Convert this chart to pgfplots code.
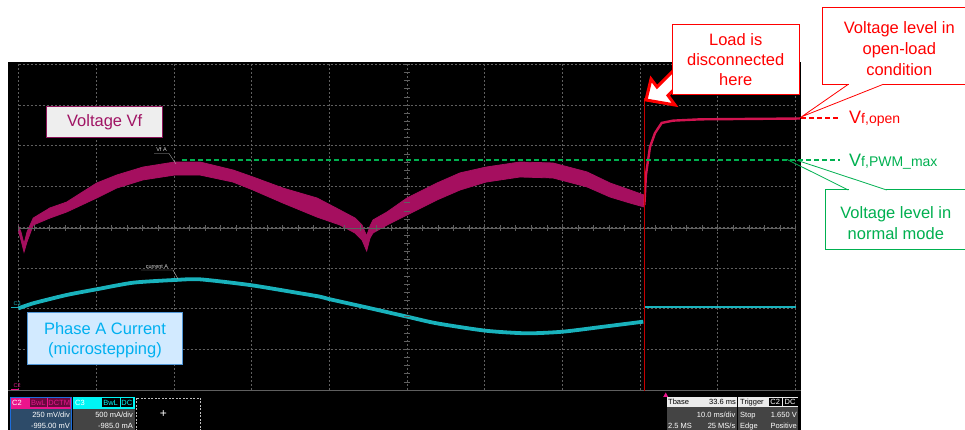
\documentclass[border=0pt]{standalone}
\usepackage{pgfplots}
\pgfplotsset{compat=1.18}
\usepackage{fontspec}
\setmainfont{Liberation Sans}

\definecolor{vfc}{RGB}{165,15,95}
\definecolor{vfjump}{RGB}{210,20,80}
\definecolor{curc}{RGB}{25,178,188}
\definecolor{gridc}{RGB}{95,95,95}
\definecolor{annred}{RGB}{255,0,0}
\definecolor{anngreen}{RGB}{0,176,80}
\definecolor{cursor}{RGB}{200,0,0}
\definecolor{vfbox}{RGB}{140,20,90}
\definecolor{vffill}{RGB}{238,238,238}
\definecolor{vftext}{RGB}{160,20,100}
\definecolor{curboxfill}{RGB}{210,234,255}
\definecolor{curboxdraw}{RGB}{80,150,215}
\definecolor{curtext}{RGB}{0,176,240}
\definecolor{c2head}{RGB}{235,20,140}
\definecolor{c2body}{RGB}{45,75,105}
\definecolor{c2edge}{RGB}{30,110,220}
\definecolor{c3head}{RGB}{0,245,245}
\definecolor{infobody}{RGB}{68,68,68}
\definecolor{infohead}{RGB}{235,235,235}

\tikzset{
  ann/.style={font=\fontsize{16.5}{19}\selectfont},
  scp/.style={font=\fontsize{7.5}{8}\selectfont},
  lbl/.style={font=\fontsize{5.5}{6}\selectfont},
}

\begin{document}
\begin{tikzpicture}
\useasboundingbox (0,0) rectangle (965pt,430pt);
\clip (0,0) rectangle (965pt,430pt);
\begin{scope}[x=1pt,y=-1pt,shift={(0pt,430pt)}]
  \fill[black] (8,62) rectangle (801,430);
\end{scope}

% C2: Vf, 250 mV/div, 10 ms/div
\begin{axis}[
  at={(18.5pt,40pt)}, anchor=south west,
  scale only axis, width=777pt, height=325.7pt,
  xmin=0, xmax=100, ymin=-0.005, ymax=1.995,
  clip=false,
  axis line style={draw=none},
  xtick={0,10,...,100},
  ytick={-0.005,0.245,0.495,0.745,0.995,1.245,1.495,1.745,1.995},
  xticklabels={}, yticklabels={},
  major tick length=0pt,
  grid=major,
  major grid style={draw=gridc, line width=0.7pt, dash pattern=on 2pt off 2pt},
]
% band of the noisy trace: upper edge, then lower edge back
\addplot[fill=vfc, draw=vfc, line width=0.8pt] coordinates {
  (0.00,1.002) (0.32,0.965) (0.71,0.892) (1.09,0.965) (1.90,1.051)
  (4.05,1.113) (6.20,1.149) (10.06,1.266) (12.64,1.315) (16.02,1.364)
  (20.10,1.395) (23.36,1.395) (27.61,1.346) (30.18,1.303) (34.04,1.235)
  (38.42,1.174) (41.38,1.100) (43.31,1.051) (44.21,1.008) (44.81,0.941)
  (45.24,1.002) (45.62,1.039) (47.43,1.088) (50.00,1.174) (53.86,1.266)
  (56.82,1.328) (60.17,1.364) (64.54,1.395) (68.79,1.389) (73.17,1.334)
  (76.13,1.266) (78.70,1.223) (80.50,1.192)
  (80.50,1.119) (78.70,1.143) (76.13,1.180) (73.17,1.242) (68.79,1.297)
  (64.54,1.303) (60.17,1.272) (56.82,1.223) (53.86,1.162) (50.00,1.070)
  (47.43,1.008) (45.62,0.959) (45.24,0.928) (44.81,0.849) (44.21,0.916)
  (43.31,0.959) (41.38,1.008) (38.42,1.057) (34.04,1.143) (30.18,1.223)
  (27.61,1.272) (23.36,1.315) (20.10,1.315) (16.02,1.285) (12.64,1.235)
  (10.06,1.174) (6.20,1.088) (4.05,1.051) (1.90,1.008) (1.09,0.904)
  (0.71,0.842) (0.32,0.916) (0.00,0.971)
} -- cycle;
% after the load is disconnected
\addplot[draw=vfjump, line width=2.4pt] coordinates {
  (80.55,1.13) (80.75,1.315) (81.27,1.487) (81.92,1.573) (82.78,1.635)
  (84.23,1.649) (87.71,1.657) (95.00,1.660) (100.6,1.662)
};
\end{axis}

% C3: phase A current, 500 mA/div
\begin{axis}[
  at={(18.5pt,40pt)}, anchor=south west,
  scale only axis, width=777pt, height=325.7pt,
  xmin=0, xmax=100, ymin=-1.015, ymax=2.985,
  clip=false, hide axis,
]
\addplot[curc, line width=3.8pt, smooth, tension=0.4] coordinates {
  (0.00,-0.012) (1.90,0.050) (6.20,0.152) (10.06,0.222) (14.77,0.303)
  (20.10,0.336) (23.36,0.344) (29.79,0.274) (36.23,0.173) (38.80,0.131)
  (40.09,0.099) (44.38,0.008) (50.04,-0.115) (53.82,-0.196) (60.13,-0.287)
  (65.41,-0.319) (70.04,-0.299) (75.26,-0.238) (80.41,-0.176)
};
\addplot[curc, line width=2.2pt] coordinates {(80.63,0.008) (100,0.008)};
\end{axis}

\begin{scope}[x=1pt,y=-1pt,shift={(0pt,430pt)}]
  % centre axes of the graticule
  \draw[gridc, line width=0.8pt] (18.5,228.3) -- (795.5,228.3);
  \foreach \k in {0,...,50} \draw[gridc, line width=0.7pt] ({18.5+15.54*\k},225.3) -- ++(0,6);
  \foreach \k in {0,...,40} \draw[gridc, line width=0.7pt] (404,{64.3+8.1425*\k}) -- ++(6,0);
  \draw[gridc, line width=0.9pt] (8,390.5) -- (801,390.5);

  % trace labels and channel markers
  \node[lbl, text=white!85!black, anchor=base] at (161.5,152) {Vf A};
  \draw[white!70!black, line width=0.4pt] (154,153.5) -- (169,153.5) -- (176,164);
  \node[lbl, text=white!85!black, anchor=base] at (157,268.5) {current A};
  \draw[white!70!black, line width=0.4pt] (141,270) -- (173,270) -- (178,279);
  \node[lbl, text=curc, anchor=base west] at (10,305.5) {C3};
  \draw[curc, line width=0.8pt] (11,307.7) -- (19,307.7);
  \node[lbl, text=c2head, anchor=base west] at (10,387.5) {C2};
  \draw[c2head, line width=0.8pt] (11,389.3) -- (19,389.3);

  % level lines
  \draw[anngreen, line width=1.6pt, dash pattern=on 5pt off 3pt] (182,160.3) -- (840,160.3);
  \draw[annred, line width=1.6pt, dash pattern=on 5pt off 3pt] (801,118.3) -- (840,118.3);

  % load disconnected marker
  \draw[cursor, line width=1.8pt] (644.5,98) -- (644.5,391);
  \draw[annred, line width=3pt, fill=white, line join=miter]
    (646,100) -- (651,79) -- (657,87) -- (697,47) -- (707,57) -- (668,95.5) -- (675,105) -- cycle;
  \draw[annred, fill=white, line width=1pt] (672.7,24.3) rectangle (799.3,95);
  \node[ann, text=annred, anchor=base] at (735.7,46) {Load is};
  \node[ann, text=annred, anchor=base] at (735.7,66) {disconnected};
  \node[ann, text=annred, anchor=base] at (735.7,85.7) {here};

  % open-load callout
  \draw[annred, fill=white, line width=1pt] (822.7,7.3) rectangle (970,84.3);
  \fill[white] (849,83) rectangle (883,85.5);
  \draw[annred, line width=0.8pt] (848.3,84.3) -- (801.7,116.7) -- (883.3,84.3);
  \node[ann, text=annred, anchor=base] at (899.3,33.3) {Voltage level in};
  \node[ann, text=annred, anchor=base] at (899.3,55) {open-load};
  \node[ann, text=annred, anchor=base] at (899.3,76) {condition};
  \node[text=annred, anchor=base west, inner sep=0pt] at (849,124)
    {\fontsize{18}{18}\selectfont V\fontsize{14}{14}\selectfont f,open};

  % normal mode callout
  \draw[anngreen, fill=white, line width=1pt] (825,190) rectangle (970,250);
  \fill[white] (849,189) rectangle (886,191.5);
  \draw[anngreen, line width=0.8pt] (848.3,190) -- (787,159.5);
  \draw[anngreen, line width=0.8pt] (886.7,190) -- (797,160.3);
  \node[ann, text=anngreen, anchor=base] at (895.8,218.3) {Voltage level in};
  \node[ann, text=anngreen, anchor=base] at (895.8,240) {normal mode};
  \node[text=anngreen, anchor=base west, inner sep=0pt] at (849,166.7)
    {\fontsize{18}{18}\selectfont V\fontsize{14}{14}\selectfont f,PWM\_max};

  % channel labels
  \draw[vfbox, fill=vffill, line width=0.9pt] (46.7,106.7) rectangle (162.7,137.3);
  \node[ann, text=vftext, anchor=base] at (104.7,127) {Voltage Vf};
  \draw[curboxdraw, fill=curboxfill, line width=0.9pt] (27.7,312.7) rectangle (182.7,364);
  \node[ann, text=curtext, anchor=base] at (105,335) {Phase A Current};
  \node[ann, text=curtext, anchor=base] at (105,355) {(microstepping)};

  % scope info bar
  \fill[c2body] (10,408.7) rectangle (71.7,432);
  \fill[c2head] (10,397) rectangle (71.7,408.7);
  \draw[c2edge, line width=0.8pt] (10,397) rectangle (71.7,432);
  \node[scp, text=white, anchor=base west, inner sep=0pt] at (12,405.5) {C2};
  \fill[black!55!c2head] (30,398.5) rectangle (46.7,407.5);
  \node[scp, text=c2head, anchor=base, inner sep=0pt] at (38.3,405.5) {BwL};
  \fill[black!55!c2head] (48.3,398.5) rectangle (70,407.5);
  \node[scp, text=c2head, anchor=base, inner sep=0pt] at (59.2,405.5) {DCTM};
  \node[scp, text=white, anchor=base east, inner sep=0pt] at (70,418) {250 mV/div};
  \node[scp, text=white, anchor=base east, inner sep=0pt] at (70,428.5) {-995.00 mV};

  \fill[infobody] (73.3,408.7) rectangle (135,432);
  \fill[c3head] (73.3,397) rectangle (135,408.7);
  \node[scp, text=white, anchor=base west, inner sep=0pt] at (75,405.5) {C3};
  \fill[black] (101.7,398.5) rectangle (119.5,407.5);
  \node[scp, text=c3head, anchor=base, inner sep=0pt] at (110.6,405.5) {BwL};
  \fill[black] (120.5,398.5) rectangle (133.3,407.5);
  \node[scp, text=c3head, anchor=base, inner sep=0pt] at (126.9,405.5) {DC};
  \node[scp, text=white, anchor=base east, inner sep=0pt] at (133,418) {500 mA/div};
  \node[scp, text=white, anchor=base east, inner sep=0pt] at (133,428.5) {-985.0 mA};

  \draw[white!75!black, line width=0.6pt, dash pattern=on 2pt off 1.5pt] (136.5,398) rectangle (200,432);
  \node[text=white, font=\fontsize{12}{12}\selectfont] at (163.3,414.5) {+};

  \fill[c2head] (663.2,397) -- (668.2,397) -- (665.7,392.5) -- cycle;
  \fill[infobody] (666.7,407) rectangle (736.7,432);
  \fill[infohead] (666.7,397) rectangle (736.7,407);
  \node[scp, text=black, anchor=base west, inner sep=0pt] at (668,404.5) {Tbase};
  \node[scp, text=black, anchor=base east, inner sep=0pt] at (736,404.5) {33.6 ms};
  \node[scp, text=white, anchor=base east, inner sep=0pt] at (735.5,418) {10.0 ms/div};
  \node[scp, text=white, anchor=base west, inner sep=0pt] at (668,428.5) {2.5 MS};
  \node[scp, text=white, anchor=base east, inner sep=0pt] at (735.5,428.5) {25 MS/s};

  \fill[infobody] (738.3,407) rectangle (798.3,432);
  \fill[infohead] (738.3,397) rectangle (798.3,407);
  \node[scp, text=black, anchor=base west, inner sep=0pt] at (740,404.5) {Trigger};
  \fill[black] (769,398) rectangle (781.5,406.3);
  \node[scp, text=white, anchor=base, inner sep=0pt] at (775.2,404.5) {C2};
  \fill[black] (782.5,398) rectangle (797.5,406.3);
  \node[scp, text=white, anchor=base, inner sep=0pt] at (790,404.5) {DC};
  \node[scp, text=white, anchor=base west, inner sep=0pt] at (740,418) {Stop};
  \node[scp, text=white, anchor=base east, inner sep=0pt] at (797,418) {1.650 V};
  \node[scp, text=white, anchor=base west, inner sep=0pt] at (740,428.5) {Edge};
  \node[scp, text=white, anchor=base east, inner sep=0pt] at (797,428.5) {Positive};
\end{scope}
\end{tikzpicture}
\end{document}
